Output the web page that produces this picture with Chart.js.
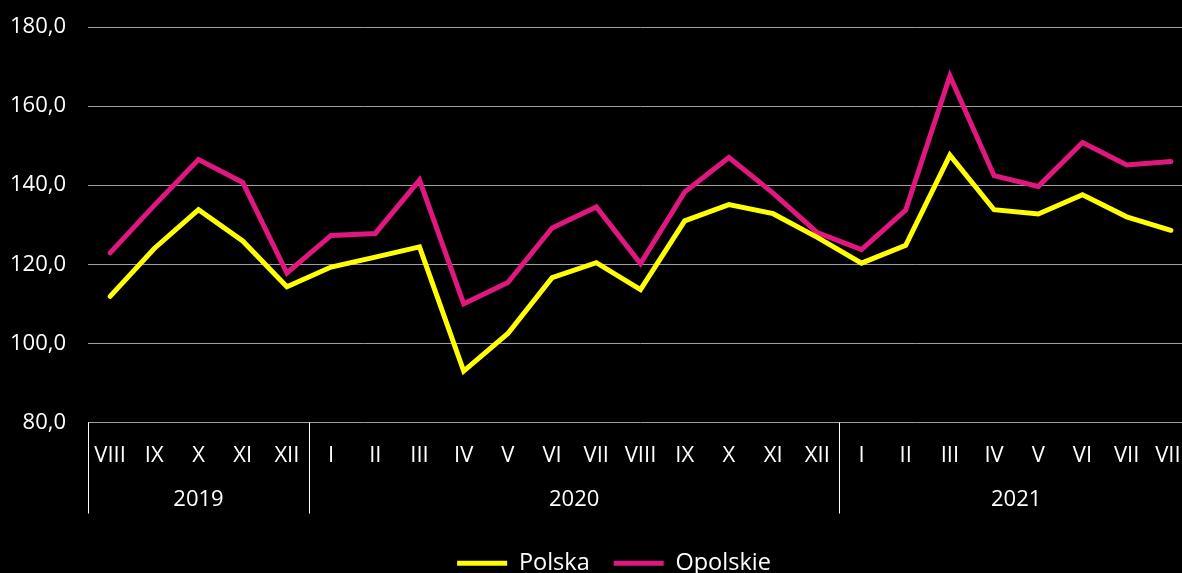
<!DOCTYPE html>
<html>
<head>
<meta charset="utf-8">
<script src="https://cdn.jsdelivr.net/npm/chart.js@4.4.0/dist/chart.umd.min.js"></script>
<style>
  html, body { margin: 0; padding: 0; background: #000; overflow: hidden; }
  canvas { display: block; }
</style>
</head>
<body>
<canvas id="chart" width="1228" height="585"></canvas>
<script>
// Data
const months = ['VIII', 'IX', 'X', 'XI', 'XII',
  'I', 'II', 'III', 'IV', 'V', 'VI', 'VII', 'VIII', 'IX', 'X', 'XI', 'XII',
  'I', 'II', 'III', 'IV', 'V', 'VI', 'VII', 'VIII'];
const years = ['2019', '2020', '2021'];
const yearSpans = [5, 12, 8];
const polska = [111.9, 124.0, 133.8, 125.9, 114.3,
  119.3, 121.8, 124.4, 93.0, 102.5, 116.6, 120.4, 113.6, 131.0, 135.1, 132.8, 126.8,
  120.3, 124.8, 147.6, 133.8, 132.7, 137.6, 132.0, 128.6];
const opolskie = [122.9, 134.9, 146.5, 140.7, 117.8,
  127.3, 127.8, 141.3, 110.0, 115.4, 129.2, 134.5, 120.2, 138.3, 147.0, 138.0, 128.0,
  123.7, 133.7, 167.6, 142.4, 139.7, 150.8, 145.1, 146.0];
const yTicks = [80, 100, 120, 140, 160, 180];

const FONT = '"Open Sans", "Noto Sans", sans-serif';

// year row under month labels, with separators
const yearGroups = {
  id: 'yearGroups',
  afterDraw(chart) {
    const x = chart.scales.x;
    const area = chart.chartArea;
    const ctx = chart.ctx;
    const step = x.getPixelForValue(1) - x.getPixelForValue(0);
    ctx.save();
    ctx.strokeStyle = '#ffffff';
    ctx.lineWidth = 1;
    ctx.fillStyle = '#ffffff';
    ctx.font = '22px ' + FONT;
    ctx.textAlign = 'center';
    ctx.textBaseline = 'middle';
    let start = 0;
    yearSpans.forEach((n, i) => {
      const left = x.getPixelForValue(start) - step / 2;
      const right = x.getPixelForValue(start + n - 1) + step / 2;
      const lx = Math.round(left) + 0.5;
      ctx.beginPath();
      ctx.moveTo(lx, area.bottom);
      ctx.lineTo(lx, area.bottom + 91);
      ctx.stroke();
      ctx.fillText(years[i], (left + right) / 2, area.bottom + 77);
      start += n;
    });
    ctx.restore();
  }
};

const ctx = document.getElementById('chart').getContext('2d');
new Chart(ctx, {
  type: 'line',
  data: {
    labels: months,
    datasets: [{
      label: 'Polska',
      data: polska,
      borderColor: '#ffff00',
      backgroundColor: '#ffff00',
      borderWidth: 5,
      borderCapStyle: 'round',
      pointRadius: 0,
      tension: 0
    }, {
      label: 'Opolskie',
      data: opolskie,
      borderColor: '#e0177f',
      backgroundColor: '#e0177f',
      borderWidth: 5,
      borderCapStyle: 'round',
      pointRadius: 0,
      tension: 0
    }]
  },
  options: {
    responsive: false,
    animation: false,
    layout: { padding: { top: 27, right: 0, left: 0, bottom: 0 } },
    plugins: {
      tooltip: { enabled: false },
      legend: {
        position: 'bottom',
        labels: {
          color: '#ffffff',
          font: { family: FONT, size: 23.5 },
          usePointStyle: true,
          pointStyle: 'line',
          pointStyleWidth: 50,
          padding: 24
        }
      }
    },
    scales: {
      x: {
        offset: true,
        grid: { display: false },
        border: { display: false },
        ticks: {
          color: '#ffffff',
          font: { family: FONT, size: 22 },
          padding: 12,
          maxRotation: 0,
          autoSkip: false
        },
        afterFit: s => {
          s.height = 105;
          s.paddingLeft = 0;
          // plot runs past the visible edge, legend stays centred on the full canvas
          s.paddingRight = 35;
        }
      },
      y: {
        min: 80,
        max: 180,
        afterBuildTicks: s => { s.ticks = yTicks.map(v => ({ value: v })); },
        grid: { color: '#a0a0a0', lineWidth: 1, drawTicks: false },
        border: { display: false },
        ticks: {
          color: '#ffffff',
          font: { family: FONT, size: 22 },
          padding: 22,
          callback: v => v.toFixed(1).replace('.', ',')
        },
        afterFit: s => {
          s.width = 88;
          s.paddingTop = 0;
          s.paddingBottom = 0;
        }
      }
    }
  },
  plugins: [yearGroups]
});
</script>
</body>
</html>
